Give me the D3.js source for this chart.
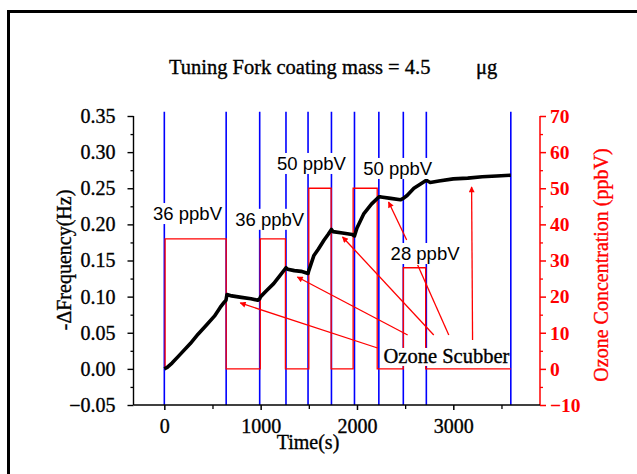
<!DOCTYPE html>
<html><head><meta charset="utf-8">
<script src="https://cdn.jsdelivr.net/npm/d3@7"></script>
<style>body{margin:0;background:#fff}</style>
</head><body><svg id="c" width="637" height="474"></svg>
<script>
// ---- data ----
const freqTime  = [0,30,80,150,270,350,440,520,580,620,640, 650,700,800,900,970,990, 1000,1060,1135,1200,1263, 1280,1350,1420,1492, 1500,1553,1600,1657,1700,1735, 1750,1850,1950,1974, 2000,2072,2150,2227, 2250,2350,2450,2481, 2520,2591,2660,2720, 2760,2850,3000,3150,3300,3450,3597];
const freqValue = [0.000,0.002,0.008,0.018,0.035,0.048,0.061,0.073,0.085,0.092,0.095, 0.103,0.101,0.099,0.097,0.095,0.097, 0.100,0.108,0.118,0.129,0.140, 0.138,0.136,0.135,0.132, 0.136,0.157,0.166,0.178,0.186,0.193, 0.190,0.188,0.186,0.184, 0.195,0.215,0.228,0.238, 0.238,0.236,0.234,0.236, 0.240,0.250,0.256,0.261, 0.258,0.260,0.263,0.264,0.266,0.267,0.268];
const switchTimes = [0,642,990,1263,1492,1735,1974,2227,2481,2720,3597];
const ozoneTimes  = [8,642,996,1257,1500,1732,1960,2210,2481,2713,3597];
const ozoneLevels = [36,0,36,0,50,0,50,0,28,0];
const leftTicks  = [-0.05,0.00,0.05,0.10,0.15,0.20,0.25,0.30,0.35];
const rightTicks = [-10,0,10,20,30,40,50,60,70];
const xTicks = [0,1000,2000,3000];
const xMinor = [500,1500,2500,3500];
const labelTexts = ["36 ppbV","36 ppbV","50 ppbV","50 ppbV","28 ppbV"];
const labelT = [-117,736,1170,2065,2349];
const labelV = [0.206,0.198,0.2753,0.2684,0.1507];
const scrubText = "Ozone Scubber";
const scrubT = 2276, scrubV = 0.0082;
// arrows: tail (t,v) -> head (t,v)
const arrowTailT = [2214,2526,2797,2516,2953,3200];
const arrowTailV = [0.0289,0.0469,0.0469,0.1784,0.0469,0.040];
const arrowHeadT = [788,1381,1850,2328,2630,3190];
const arrowHeadV = [0.0912,0.1272,0.1826,0.231,0.1438,0.2518];
const arrowHasHead = [true,true,true,true,false,true];
const titleText = "Tuning Fork coating mass = 4.5";
const titleUnit = "μg";

// ---- layout ----
const svg = d3.select("#c");
const X0=133.5, X1=540, YT=116, YB=405;
const x = d3.scaleLinear().domain([-320,3900]).range([X0,X1]);
const yL = d3.scaleLinear().domain([-0.05,0.35]).range([YB,YT]);
const yR = d3.scaleLinear().domain([-10,70]).range([YB,YT]);
const serif = "'Liberation Serif','Times New Roman',serif";
const sans = "'Liberation Sans',Arial,sans-serif";
const heavy = s => s.attr("stroke-width",0.35).attr("paint-order","stroke");

// frame
svg.append("rect").attr("x",8.5).attr("y",11.5).attr("width",700).attr("height",500)
  .attr("fill","none").attr("stroke","#000").attr("stroke-width",3);

// title
svg.append("text").attr("x",169).attr("y",74).attr("font-family",serif).attr("font-size",20.5)
  .attr("stroke","#000").call(heavy).text(titleText);
svg.append("text").attr("x",476).attr("y",74).attr("font-family",serif).attr("font-size",20.5)
  .attr("stroke","#000").call(heavy).text(titleUnit);

// blue switching lines
svg.append("g").selectAll("line").data(switchTimes).join("line")
  .attr("x1",d=>x(d)).attr("x2",d=>x(d)).attr("y1",yL(0.356)).attr("y2",YB)
  .attr("stroke","#0000ff").attr("stroke-width",1.6);

// red ozone square wave
const oz = [];
ozoneLevels.forEach((lv,i)=>{ oz.push([ozoneTimes[i],lv]); oz.push([ozoneTimes[i+1],lv]); });
oz.unshift([ozoneTimes[0],0]);
svg.append("path").datum(oz).attr("fill","none").attr("stroke","#ff0000").attr("stroke-width",1.3)
  .attr("d",d3.line().x(d=>x(d[0])).y(d=>yR(d[1])));

// black frequency curve
const fd = freqTime.map((t,i)=>[t,freqValue[i]]);
svg.append("path").datum(fd).attr("fill","none").attr("stroke","#000").attr("stroke-width",3.6)
  .attr("stroke-linejoin","round")
  .attr("d",d3.line().x(d=>x(d[0])).y(d=>yL(d[1])));

// arrows
const defs = svg.append("defs");
defs.append("marker").attr("id","ah").attr("viewBox","0 0 10 10").attr("refX",9).attr("refY",5)
  .attr("markerWidth",9).attr("markerHeight",6).attr("markerUnits","userSpaceOnUse").attr("orient","auto")
  .append("path").attr("d","M0,0L10,5L0,10Z").attr("fill","#ff0000");
svg.append("g").selectAll("line").data(arrowTailT).join("line")
  .attr("x1",(d,i)=>x(d)).attr("y1",(d,i)=>yL(arrowTailV[i]))
  .attr("x2",(d,i)=>x(arrowHeadT[i])).attr("y2",(d,i)=>yL(arrowHeadV[i]))
  .attr("stroke","#ff0000").attr("stroke-width",1.3)
  .attr("marker-end",(d,i)=>arrowHasHead[i]?"url(#ah)":null);

// concentration labels with white background
const lg = svg.append("g");
labelTexts.forEach((s,i)=>{
  const g = lg.append("g");
  const r = g.append("rect").attr("fill","#fff");
  const t = g.append("text").attr("x",x(labelT[i])).attr("y",yL(labelV[i]))
    .attr("font-family",sans).attr("font-size",18.5).text(s);
  const b = t.node().getBBox();
  r.attr("x",b.x-1).attr("y",b.y).attr("width",b.width+2).attr("height",b.height);
});
{
  const g = lg.append("g");
  const r = g.append("rect").attr("fill","#fff");
  const t = g.append("text").attr("x",x(scrubT)).attr("y",yL(scrubV))
    .attr("font-family",serif).attr("font-size",20.5).attr("stroke","#000").call(heavy).text(scrubText);
  const b = t.node().getBBox();
  r.attr("x",b.x).attr("y",b.y+3).attr("width",b.width).attr("height",b.height-4);
}

// axes
const axL = svg.append("g").attr("transform",`translate(${X0},0)`)
  .call(d3.axisLeft(yL).tickValues(leftTicks).tickFormat(d3.format(".2f")).tickSize(6).tickPadding(12));
svg.append("g").attr("transform",`translate(${X0},0)`)
  .call(d3.axisLeft(yL).tickValues(leftTicks.slice(0,-1).map(v=>v+0.025)).tickFormat("").tickSize(3))
  .call(g=>g.select(".domain").remove()).selectAll("line").attr("stroke","#000").attr("stroke-width",1.3);
axL.selectAll("text").attr("font-family",serif).attr("font-size",20).attr("fill","#000")
  .attr("stroke","#000").call(heavy);
axL.selectAll("line,path").attr("stroke","#000").attr("stroke-width",1.4);

const axR = svg.append("g").attr("transform",`translate(${X1},0)`)
  .call(d3.axisRight(yR).tickValues(rightTicks).tickSize(6).tickPadding(4));
svg.append("g").attr("transform",`translate(${X1},0)`)
  .call(d3.axisRight(yR).tickValues(rightTicks.slice(0,-1).map(v=>v+5)).tickFormat("").tickSize(3))
  .call(g=>g.select(".domain").remove()).selectAll("line").attr("stroke","#ff0000").attr("stroke-width",1.3);
axR.selectAll("text").attr("font-family",serif).attr("font-size",19.5).attr("font-weight","bold").attr("fill","#ff0000");
axR.selectAll("line,path").attr("stroke","#ff0000").attr("stroke-width",1.5);

const axB = svg.append("g").attr("transform",`translate(0,${YB})`)
  .call(d3.axisBottom(x).tickValues(xTicks).tickFormat(d3.format("d")).tickSize(5).tickPadding(9));
svg.append("g").attr("transform",`translate(0,${YB})`)
  .call(d3.axisBottom(x).tickValues(xMinor).tickFormat("").tickSize(4))
  .call(g=>g.select(".domain").remove()).selectAll("line").attr("stroke","#000").attr("stroke-width",1.3);
axB.selectAll("text").attr("font-family",serif).attr("font-size",20).attr("fill","#000")
  .attr("stroke","#000").call(heavy);
axB.selectAll("line,path").attr("stroke","#000").attr("stroke-width",1.5);
axB.select(".domain").attr("d",`M${X0},0H${X1}`);
axL.select(".domain").attr("d",`M0,${YT}V${YB}`);
axR.select(".domain").attr("d",`M0,${YT}V${YB}`);

// axis titles
svg.append("text").attr("transform",`translate(71,260) rotate(-90)`).attr("text-anchor","middle")
  .attr("font-family",serif).attr("font-size",20).attr("stroke","#000").call(heavy).text("-ΔFrequency(Hz)");
svg.append("text").attr("transform",`translate(608,265) rotate(-90)`).attr("text-anchor","middle")
  .attr("font-family",serif).attr("font-size",20).attr("fill","#ff0000").attr("stroke","#ff0000").call(heavy)
  .text("Ozone Concentration (ppbV)");
svg.append("text").attr("x",308).attr("y",449).attr("text-anchor","middle")
  .attr("font-family",serif).attr("font-size",20).attr("stroke","#000").call(heavy).text("Time(s)");
</script></body></html>
